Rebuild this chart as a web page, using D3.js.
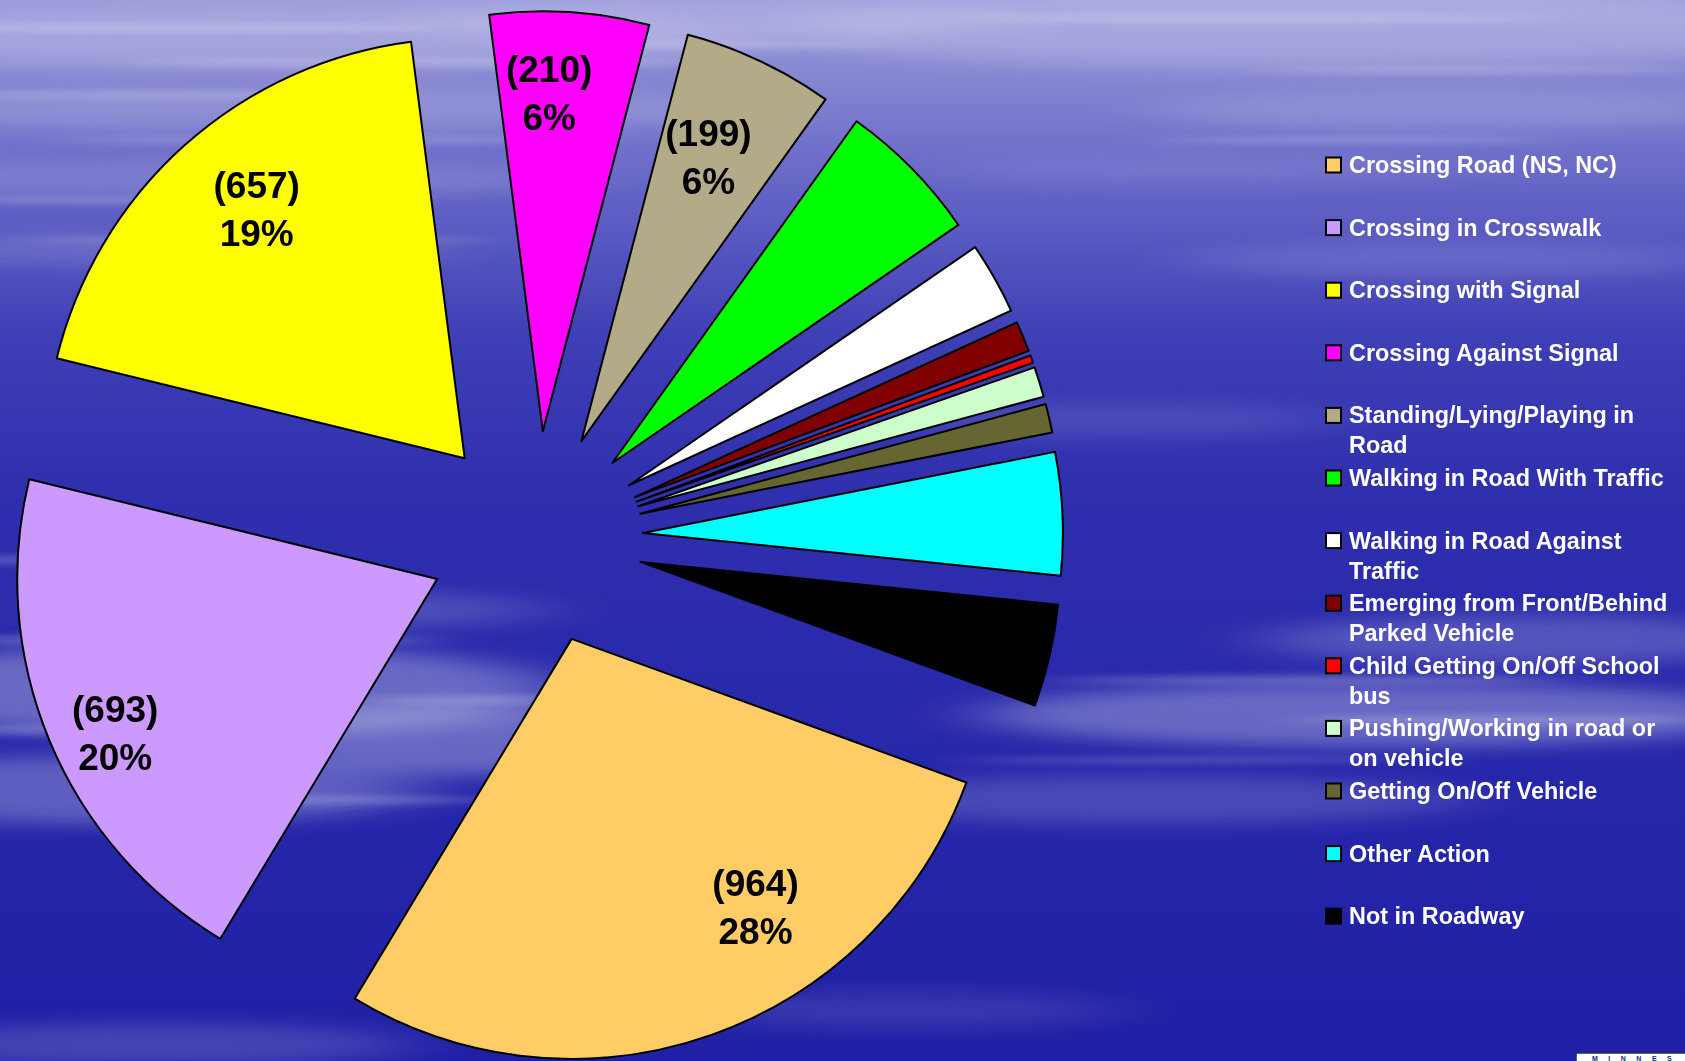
<!DOCTYPE html>
<html>
<head>
<meta charset="utf-8">
<script src="https://cdn.jsdelivr.net/npm/d3@7"></script>
<style>
  body { margin: 0; overflow: hidden; background: #2222a8; }
  svg { display: block; }
</style>
</head>
<body>
<svg id="root"></svg>
<script>
// pedestrian action counts, clockwise from the bottom-right slice
var categories = [
  'Crossing Road (NS, NC)',
  'Crossing in Crosswalk',
  'Crossing with Signal',
  'Crossing Against Signal',
  'Standing/Lying/Playing in Road',
  'Walking in Road With Traffic',
  'Walking in Road Against Traffic',
  'Emerging from Front/Behind Parked Vehicle',
  'Child Getting On/Off School bus',
  'Pushing/Working in road or on vehicle',
  'Getting On/Off Vehicle',
  'Other Action',
  'Not in Roadway'
];
var counts = [964, 693, 657, 210, 199, 190, 95, 40, 10, 40, 38, 162, 135];
var colors = ['#ffcc66', '#cc99ff', '#ffff00', '#ff00ff', '#b3aa88', '#00ff00', '#ffffff',
              '#800000', '#ff0000', '#ccffcc', '#666633', '#00ffff', '#000000'];

var width = 1685,
    height = 1061,
    cx = 536, cy = 538,
    radius = 420,
    explode = 107,
    labelDist = 330,
    labelMin = 195,
    startDeg = 110;

var total = d3.sum(counts);

var root = d3.select('#root')
    .attr('width', width)
    .attr('height', height);

// ---- background sky
var defs = root.append('defs');
var sky = defs.append('linearGradient')
    .attr('id', 'sky')
    .attr('x1', 0).attr('y1', 0).attr('x2', 0).attr('y2', 1);
[[0, '#9c9cdc'], [0.07, '#8686d2'], [0.18, '#6464c6'], [0.32, '#3e3eb6'],
 [0.48, '#2e2eae'], [0.75, '#2626aa'], [1, '#2020a6']].forEach(function(s) {
  sky.append('stop').attr('offset', s[0]).attr('stop-color', s[1]);
});
defs.append('filter')
    .attr('id', 'blur')
    .attr('x', '-50%').attr('y', '-50%').attr('width', '200%').attr('height', '200%')
  .append('feGaussianBlur')
    .attr('stdDeviation', '45 9');
defs.append('filter')
    .attr('id', 'streak')
    .attr('x', '-50%').attr('y', '-50%').attr('width', '200%').attr('height', '200%')
  .append('feGaussianBlur')
    .attr('stdDeviation', '30 3.5');

root.append('rect')
    .attr('width', width)
    .attr('height', height)
    .attr('fill', 'url(#sky)');

// soft cloud banks: cx, cy, rx, ry, opacity
var clouds = [
  [250, 40, 520, 30, 0.18], [320, 110, 460, 22, 0.15], [200, 180, 380, 18, 0.14],
  [150, 250, 300, 16, 0.12], [1300, 30, 520, 40, 0.18], [1450, 110, 300, 20, 0.14],
  [700, 20, 300, 20, 0.15], [1200, 170, 260, 14, 0.08],
  [200, 690, 360, 45, 0.3], [120, 790, 300, 35, 0.26], [470, 740, 220, 35, 0.3],
  [300, 610, 250, 20, 0.16], [1380, 715, 400, 32, 0.3], [1520, 640, 260, 25, 0.2],
  [1150, 800, 320, 25, 0.16], [1120, 420, 220, 18, 0.1], [1450, 260, 260, 18, 0.12],
  [150, 1045, 260, 22, 0.16], [900, 1010, 220, 18, 0.1]
];
root.append('g')
    .attr('filter', 'url(#blur)')
  .selectAll('ellipse')
  .data(clouds)
  .enter()
    .append('ellipse')
    .attr('cx', function(d) { return d[0]; })
    .attr('cy', function(d) { return d[1]; })
    .attr('rx', function(d) { return d[2]; })
    .attr('ry', function(d) { return d[3]; })
    .attr('fill', '#ffffff')
    .attr('opacity', function(d) { return d[4]; });

// thin wisps on top of the banks
var wisps = [
  [180, 28, 260, 4], [420, 62, 300, 4], [120, 95, 220, 3], [330, 140, 280, 3],
  [90, 200, 200, 3], [260, 240, 240, 3], [700, 45, 200, 3], [1250, 18, 300, 4],
  [1480, 70, 220, 3], [1350, 140, 200, 3], [60, 560, 200, 4], [180, 640, 260, 5],
  [80, 730, 220, 5], [330, 800, 180, 4], [520, 700, 160, 4], [1300, 680, 260, 4],
  [1500, 720, 200, 5], [1180, 760, 220, 3]
];
root.append('g')
    .attr('filter', 'url(#streak)')
  .selectAll('ellipse')
  .data(wisps)
  .enter()
    .append('ellipse')
    .attr('cx', function(d) { return d[0]; })
    .attr('cy', function(d) { return d[1]; })
    .attr('rx', function(d) { return d[2]; })
    .attr('ry', function(d) { return d[3]; })
    .attr('fill', '#ffffff')
    .attr('opacity', 0.22);

// ---- exploded pie
var start = startDeg * Math.PI / 180;
var pie = d3.pie()
    .sort(null)
    .value(function(d) { return d.value; })
    .startAngle(start)
    .endAngle(start + 2 * Math.PI);

var arc = d3.arc()
    .innerRadius(0)
    .outerRadius(radius);

var data = categories.map(function(c, i) {
  return { name: c, value: counts[i], color: colors[i] };
});
var slices = pie(data);

function mid(d) { return (d.startAngle + d.endAngle) / 2; }

var slice = root.append('g')
    .attr('transform', 'translate(' + cx + ',' + cy + ')')
  .selectAll('.slice')
  .data(slices)
  .enter()
    .append('g')
    .attr('class', 'slice')
    .attr('transform', function(d) {
      var a = mid(d);
      return 'translate(' + (explode * Math.sin(a)) + ',' + (-explode * Math.cos(a)) + ')';
    });

slice.append('path')
    .attr('d', arc)
    .attr('fill', function(d) { return d.data.color; })
    .attr('stroke', '#000')
    .attr('stroke-width', 2)
    .attr('stroke-linejoin', 'round');

// label placement tweaks (degrees off the bisector, extra distance)
var labelNudge = {
  'Crossing Road (NS, NC)': [-15, -5],
  'Crossing in Crosswalk': [-3, 27],
  'Crossing with Signal': [2, -5],
  'Crossing Against Signal': [-2.6, 8],
  'Standing/Lying/Playing in Road': [-1, -19]
};

var label = slice.filter(function(d) { return d.data.value >= labelMin; })
  .append('text')
    .attr('text-anchor', 'middle')
    .attr('font-family', 'Arial, "Liberation Sans", sans-serif')
    .attr('font-weight', 'bold')
    .attr('font-size', 37)
    .attr('fill', '#000')
    .attr('transform', function(d) {
      var n = labelNudge[d.data.name] || [0, 0],
          a = mid(d) + n[0] * Math.PI / 180,
          r = labelDist + n[1];
      return 'translate(' + (r * Math.sin(a)) + ',' + (-r * Math.cos(a)) + ')';
    });
label.append('tspan')
    .attr('x', 0)
    .attr('y', -11)
    .text(function(d) { return '(' + d.data.value + ')'; });
label.append('tspan')
    .attr('x', 0)
    .attr('y', 37)
    .text(function(d) { return Math.round(d.data.value / total * 100) + '%'; });

// ---- legend
var legendX = 1326,
    legendY = 165,
    legendStep = 62.6,
    wrapWidth = 335;

var item = root.append('g')
  .selectAll('.item')
  .data(data)
  .enter()
    .append('g')
    .attr('class', 'item')
    .attr('transform', function(d, i) {
      return 'translate(' + legendX + ',' + (legendY + i * legendStep) + ')';
    });

item.append('rect')
    .attr('x', 0)
    .attr('y', -7.5)
    .attr('width', 15)
    .attr('height', 15)
    .attr('fill', function(d) { return d.color; })
    .attr('stroke', '#000')
    .attr('stroke-width', 2);

item.append('text')
    .attr('x', 23)
    .attr('y', 8)
    .attr('font-family', 'Arial, "Liberation Sans", sans-serif')
    .attr('font-weight', 'bold')
    .attr('font-size', 23.4)
    .attr('fill', '#fff')
    .each(function(d) {
      var text = d3.select(this),
          words = d.name.split(' '),
          line = [],
          tspan = text.append('tspan').attr('x', 23).attr('dy', 0);
      words.forEach(function(w) {
        line.push(w);
        tspan.text(line.join(' '));
        if (tspan.node().getComputedTextLength() > wrapWidth && line.length > 1) {
          line.pop();
          tspan.text(line.join(' '));
          line = [w];
          tspan = text.append('tspan').attr('x', 23).attr('dy', 30).text(w);
        }
      });
    });

// corner logo strip, mostly off the page
root.append('rect')
    .attr('x', 1576)
    .attr('y', 1053)
    .attr('width', 130)
    .attr('height', 30)
    .attr('fill', '#fff')
    .attr('stroke', '#1a2a6c')
    .attr('stroke-width', 1.5);
root.append('text')
    .attr('x', 1592)
    .attr('y', 1060.5)
    .attr('font-family', 'Arial, "Liberation Sans", sans-serif')
    .attr('font-weight', 'bold')
    .attr('font-size', 7)
    .attr('letter-spacing', 10.5)
    .attr('fill', '#1a2a6c')
    .text('MINNES');
</script>
</body>
</html>
